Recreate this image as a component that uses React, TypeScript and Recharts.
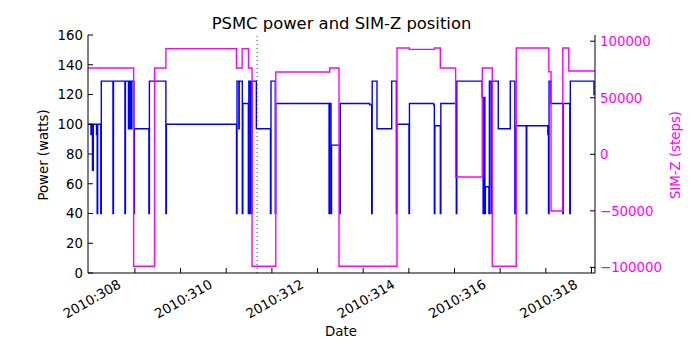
import React from "react";
import { LineChart, Line, XAxis, YAxis, ReferenceLine } from "recharts";

// day-of-year 2010 ticks
const dayTicks = [308, 309, 310, 311, 312, 313, 314, 315, 316, 317, 318];
const powerTicks = [0, 20, 40, 60, 80, 100, 120, 140, 160];
const simzTicks = [-100000, -50000, 0, 50000, 100000];

// PSMC power (watts), step changes
const powerTimes = [
  306.972, 307.037, 307.048, 307.07, 307.088, 307.158, 307.173, 307.184, 307.252, 307.263,
  307.519, 307.53, 307.781, 307.792, 307.858, 307.869, 307.891, 307.902, 307.923, 307.934,
  307.978, 307.989, 308.306, 308.317, 308.678, 308.689, 310.225, 310.236, 310.276, 310.284,
  310.352, 310.363, 310.484, 310.495, 310.527, 310.536, 310.556, 310.565, 310.659, 310.969,
  310.98, 311.074, 311.085, 312.252, 312.263, 312.295, 312.306, 312.486, 312.497, 313.142,
  313.186, 313.197, 313.302, 313.624, 313.726, 313.737, 314.002, 314.013, 314.543, 314.558,
  314.569, 314.689, 314.7, 315.039, 315.05, 315.604, 315.626, 315.637, 315.665, 315.676,
  315.753, 315.764, 315.801, 315.812, 315.958, 316.221, 316.322, 316.333, 316.571, 316.582,
  317.044, 317.059, 317.07, 317.109, 317.372, 317.383, 317.525, 317.536, 318.055, 318.077,
];
const powerWatts = [
  100, 93, 100, 69, 100, 93, 40, 100, 40, 129,
  40, 129, 40, 129, 97, 129, 97, 129, 97, 129,
  40, 97, 40, 129, 40, 100, 40, 129, 97, 129,
  40, 114, 40, 129, 40, 129, 40, 129, 97, 40,
  129, 40, 114, 40, 114, 40, 86, 40, 114, 113,
  40, 129, 97, 129, 40, 100, 40, 114, 113, 40,
  99, 40, 114, 40, 129, 118, 40, 118, 40, 58,
  40, 129, 40, 129, 97, 129, 40, 99, 40, 99,
  93, 40, 129, 114, 40, 114, 40, 129, 120, 120,
];

// SIM-Z position (steps), step changes
const simzTimes = [
  306.972, 307.972, 308.431, 308.678, 310.225, 310.348, 310.488, 310.565, 311.085, 312.267,
  312.47, 313.74, 314.011, 314.558, 314.689, 315.024, 315.608, 315.827, 316.352, 317.066,
  317.114, 317.372, 317.503, 318.077,
];
const simzSteps = [
  76300, -99000, 76300, 93400, 76300, 93400, 76300, -99000, 72800, 76300,
  -99000, 94000, 92800, 94000, 76300, -20100, 76300, -99000, 94000, 73000,
  -50100, 94000, 73650, 73650,
];

const nowDay = 310.676;

const powerData = powerTimes.map((t, i) => ({ t, power: powerWatts[i] }));
const simzData = simzTimes.map((t, i) => ({ t, simz: simzSteps[i] }));

const FONT = "DejaVu Sans";
const MAGENTA = "#ff00ff";

const BottomTick = (props: any) => {
  const { x, y, payload } = props;
  const even = payload.value % 2 === 0;
  const ax = x - 13;
  const ay = y + 14;
  return (
    <g>
      <line x1={x} y1={y} x2={x} y2={y - 5} stroke="#000" />
      {even && (
        <text
          x={ax}
          y={ay}
          transform={`rotate(-30 ${ax} ${ay})`}
          textAnchor="end"
          fontSize={13.3}
          fontFamily={FONT}
          fill="#000"
        >
          {`2010:${payload.value}`}
        </text>
      )}
    </g>
  );
};

const TopTick = (props: any) => {
  const { x, y } = props;
  return <line x1={x} y1={y} x2={x} y2={y + 5} stroke="#000" />;
};

const LeftTick = (props: any) => {
  const { x, y, payload } = props;
  return (
    <g>
      <line x1={x} y1={y} x2={x + 5} y2={y} stroke="#000" />
      <text x={x - 5} y={y} dy="0.36em" textAnchor="end" fontSize={13.3} fontFamily={FONT} fill="#000">
        {payload.value}
      </text>
    </g>
  );
};

const RightTick = (props: any) => {
  const { x, y, payload } = props;
  const v = payload.value;
  const label = v < 0 ? `\u2212${Math.abs(v)}` : `${v}`;
  return (
    <g>
      <line x1={x} y1={y} x2={x - 5} y2={y} stroke="#000" />
      <text x={x + 5} y={y} dy="0.36em" textAnchor="start" fontSize={13.3} fontFamily={FONT} fill={MAGENTA}>
        {label}
      </text>
    </g>
  );
};

export default function App() {
  return (
    <div style={{ position: "absolute", left: 0, top: 0, width: 700, height: 350, background: "#fff" }}>
      <LineChart width={700} height={350} margin={{ top: 35, right: 0, bottom: 0, left: 0 }}>
        <XAxis
          dataKey="t"
          type="number"
          domain={[306.972, 318.077]}
          allowDataOverflow
          ticks={dayTicks}
          interval={0}
          height={77}
          tickSize={0}
          tickMargin={0}
          tickLine={false}
          tick={<BottomTick />}
          axisLine={{ stroke: "#000" }}
        />
        <XAxis
          xAxisId="top"
          orientation="top"
          dataKey="t"
          type="number"
          domain={[306.972, 318.077]}
          allowDataOverflow
          ticks={dayTicks}
          interval={0}
          height={0}
          tickSize={0}
          tickMargin={0}
          tickLine={false}
          tick={<TopTick />}
          axisLine={{ stroke: "#000" }}
        />
        <YAxis
          yAxisId="left"
          type="number"
          domain={[0, 160]}
          ticks={powerTicks}
          interval={0}
          width={88}
          tickSize={0}
          tickMargin={0}
          tickLine={false}
          tick={<LeftTick />}
          axisLine={{ stroke: "#000" }}
        />
        <YAxis
          yAxisId="right"
          orientation="right"
          type="number"
          domain={[-104950, 105480]}
          allowDataOverflow
          ticks={simzTicks}
          interval={0}
          width={105}
          tickSize={0}
          tickMargin={0}
          tickLine={false}
          tick={<RightTick />}
          axisLine={{ stroke: "#000" }}
        />
        <ReferenceLine
          x={nowDay}
          yAxisId="left"
          stroke="#008000"
          strokeDasharray="1 3"
          strokeWidth={1}
        />
        <Line
          data={powerData}
          yAxisId="left"
          dataKey="power"
          type="stepAfter"
          stroke="#0000ff"
          strokeWidth={1.4}
          dot={false}
          activeDot={false}
          isAnimationActive={false}
        />
        <Line
          data={simzData}
          yAxisId="right"
          dataKey="simz"
          type="stepAfter"
          stroke={MAGENTA}
          strokeWidth={1.4}
          dot={false}
          activeDot={false}
          isAnimationActive={false}
        />
        <text x={341.5} y={29} textAnchor="middle" fontSize={16.4} fontFamily={FONT} fill="#000">
          PSMC power and SIM-Z position
        </text>
        <text
          x={43}
          y={155}
          transform="rotate(-90 43 155)"
          textAnchor="middle"
          dominantBaseline="central"
          fontSize={13.3}
          fontFamily={FONT}
          fill="#000"
        >
          Power (watts)
        </text>
        <text
          x={675}
          y={155}
          transform="rotate(-90 675 155)"
          textAnchor="middle"
          dominantBaseline="central"
          fontSize={13.3}
          fontFamily={FONT}
          fill={MAGENTA}
        >
          SIM-Z (steps)
        </text>
        <text x={341} y={336} textAnchor="middle" fontSize={13.3} fontFamily={FONT} fill="#000">
          Date
        </text>
      </LineChart>
    </div>
  );
}
